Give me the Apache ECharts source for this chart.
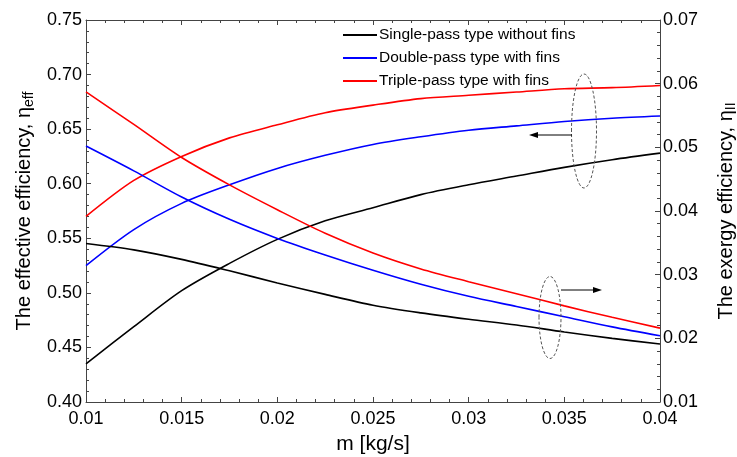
<!DOCTYPE html>
<html>
<head>
<meta charset="utf-8">
<script src="https://cdn.jsdelivr.net/npm/echarts@6/dist/echarts.min.js"></script>
<style>html,body{margin:0;padding:0;background:#fff}#c{width:737px;height:457px}</style>
</head>
<body>
<div id="c"></div>
<script>
const massFlow = [0.01,0.0125,0.015,0.0175,0.02,0.0225,0.025,0.0275,0.03,0.0325,0.035,0.0375,0.04];
// effective efficiency (left axis)
const effSingle = [0.435,0.469,0.502,0.527,0.549,0.566,0.578,0.590,0.599,0.607,0.615,0.622,0.628];
const effDouble = [0.525,0.558,0.582,0.599,0.614,0.626,0.636,0.643,0.649,0.653,0.657,0.660,0.662];
const effTriple = [0.570,0.603,0.625,0.642,0.654,0.665,0.672,0.678,0.681,0.684,0.687,0.688,0.690];
// exergy efficiency (right axis)
const exSingle = [0.0349,0.0339,0.0324,0.0306,0.0287,0.0269,0.0252,0.0240,0.0230,0.0221,0.0210,0.0200,0.0191];
const exDouble = [0.0502,0.0463,0.0422,0.0387,0.0357,0.0331,0.0307,0.0285,0.0266,0.0250,0.0234,0.0218,0.0204];
const exTriple = [0.0587,0.0536,0.0484,0.0441,0.0402,0.0365,0.0334,0.0309,0.0289,0.0270,0.0251,0.0233,0.0216];
const seriesNames = ['Single-pass type without fins','Double-pass type with fins','Triple-pass type with fins'];
const seriesColors = ['#000000','#0000ff','#ff0000'];

const FONT = '"Liberation Sans", Arial, sans-serif';
const pair = a => massFlow.map((x,i)=>[x,a[i]]);
const chart = echarts.init(document.getElementById('c'));

function mkSeries(name, color, data, yIdx){
  return {type:'line', name, data:pair(data), yAxisIndex:yIdx, xAxisIndex:0,
    showSymbol:false, smooth:0.3, lineStyle:{color, width:1.6}, itemStyle:{color}, z:3};
}
const axisCommon = {
  axisLine:{show:true, onZero:false, lineStyle:{color:'#444', width:1}},
  axisTick:{show:true, inside:true, length:5, lineStyle:{color:'#444'}},
  minorTick:{show:true, splitNumber:5, length:3, lineStyle:{color:'#444'}},
  splitLine:{show:false}
};

const option = {
  animation:false,
  backgroundColor:'#fff',
  grid:{left:86, right:77, top:20, bottom:55, containLabel:false, outerBoundsMode:'none'},
  legend:{
    orient:'vertical', left:343, top:27, padding:0, itemWidth:34, itemHeight:2, itemGap:7,
    icon:'rect', data:seriesNames,
    textStyle:{fontFamily:FONT, fontSize:15.5, color:'#000', padding:[0,0,0,-3], lineHeight:16}
  },
  xAxis:[
    Object.assign({type:'value', min:0.01, max:0.04, interval:0.005, position:'bottom',
      name:'m [kg/s]', nameLocation:'middle', nameGap:32,
      nameTextStyle:{fontFamily:FONT, fontSize:21, color:'#000'},
      axisLabel:{fontFamily:FONT, fontSize:18, color:'#000', margin:8}}, axisCommon),
    Object.assign({type:'value', min:0.01, max:0.04, interval:0.005, position:'top',
      axisLabel:{show:false}}, axisCommon)
  ],
  yAxis:[
    Object.assign({type:'value', min:0.40, max:0.75, interval:0.05, position:'left',
      name:'{a|The effective efficiency, η}{b|eff}', nameLocation:'middle', nameGap:50, nameRotate:90,
      nameTextStyle:{rich:{a:{fontFamily:FONT, fontSize:20, color:'#000', lineHeight:24},
                           b:{fontFamily:FONT, fontSize:14, color:'#000', lineHeight:14, verticalAlign:'bottom'}}},
      axisLabel:{fontFamily:FONT, fontSize:18, color:'#000', margin:4, formatter:v=>v.toFixed(2)}}, axisCommon),
    Object.assign({type:'value', min:0.01, max:0.07, interval:0.01, position:'right',
      name:'{a|The exergy efficiency, η}{b|II}', nameLocation:'middle', nameGap:54, nameRotate:90,
      nameTextStyle:{rich:{a:{fontFamily:FONT, fontSize:20, color:'#000', lineHeight:24},
                           b:{fontFamily:FONT, fontSize:14, color:'#000', lineHeight:14, verticalAlign:'bottom'}}},
      axisLabel:{fontFamily:FONT, fontSize:18, color:'#000', margin:3, formatter:v=>v.toFixed(2)}}, axisCommon)
  ],
  series:[
    mkSeries(seriesNames[0], seriesColors[0], effSingle, 0),
    mkSeries(seriesNames[1], seriesColors[1], effDouble, 0),
    mkSeries(seriesNames[2], seriesColors[2], effTriple, 0),
    mkSeries(seriesNames[0], seriesColors[0], exSingle, 1),
    mkSeries(seriesNames[1], seriesColors[1], exDouble, 1),
    mkSeries(seriesNames[2], seriesColors[2], exTriple, 1)
  ],
  graphic:[
    {type:'ellipse', shape:{cx:584, cy:131, rx:12.5, ry:57}, style:{fill:'none', stroke:'#555', lineWidth:1, lineDash:[3,2]}, z:10},
    {type:'line', shape:{x1:572, y1:135, x2:536, y2:135}, style:{stroke:'#000', lineWidth:1}, z:10},
    {type:'polygon', shape:{points:[[529,135],[538,132],[538,138]]}, style:{fill:'#000'}, z:10},
    {type:'ellipse', shape:{cx:550, cy:317.5, rx:11, ry:41}, style:{fill:'none', stroke:'#555', lineWidth:1, lineDash:[3,2]}, z:10},
    {type:'line', shape:{x1:561, y1:290, x2:595, y2:290}, style:{stroke:'#000', lineWidth:1}, z:10},
    {type:'polygon', shape:{points:[[602,290],[593,287],[593,293]]}, style:{fill:'#000'}, z:10}
  ]
};
chart.setOption(option);
</script>
</body>
</html>
